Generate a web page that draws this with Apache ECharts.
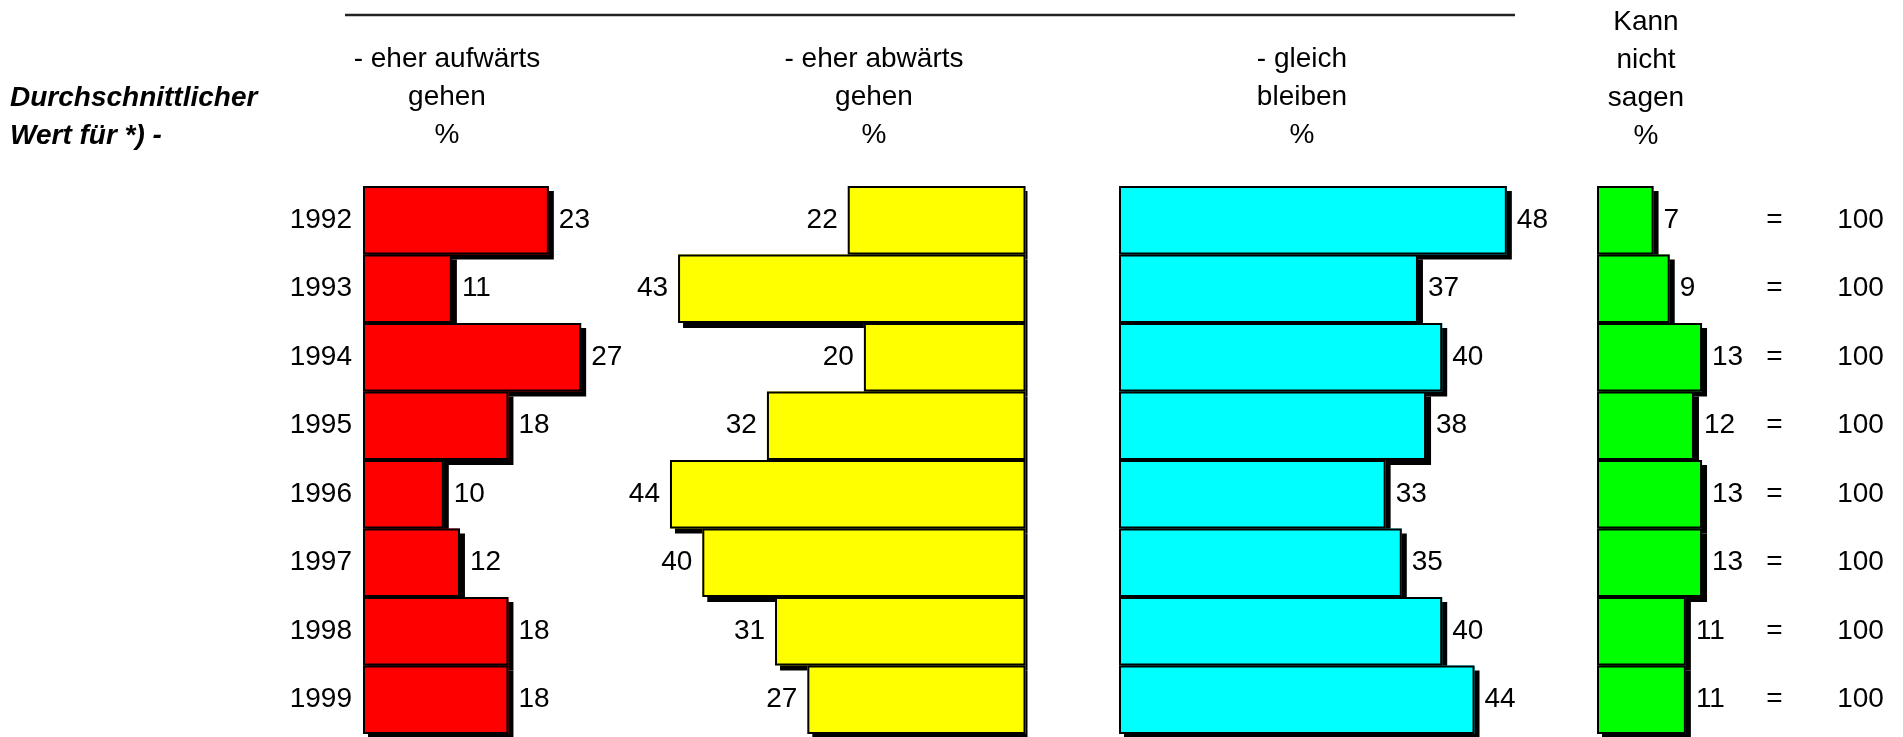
<!DOCTYPE html>
<html>
<head>
    <meta charset="utf-8">
    <title>Durchschnittlicher Wert</title>
    <script src="https://cdn.jsdelivr.net/npm/echarts@6/dist/echarts.min.js"></script>
    <style>
        html, body { margin: 0; padding: 0; background: #fff; }
        #chart1 { width: 1903px; height: 737px; }
    </style>
</head>
<body>
<div id="chart1"></div>
<script type="text/javascript">
    // Daten
    var years = ['1992', '1993', '1994', '1995', '1996', '1997', '1998', '1999'];
    var aufwaerts = [23, 11, 27, 18, 10, 12, 18, 18];
    var abwaerts = [22, 43, 20, 32, 44, 40, 31, 27];
    var gleich = [48, 37, 40, 38, 33, 35, 40, 44];
    var kannNicht = [7, 9, 13, 12, 13, 13, 11, 11];
    var totals = [100, 100, 100, 100, 100, 100, 100, 100];

    var FONT = "'Liberation Sans', Arial, sans-serif";
    var FS = 28;
    var PX = 8.08;          // Pixel pro Prozentpunkt
    var TOP = 186, H = 548;

    var myChart1 = echarts.init(document.getElementById('chart1'));

    // Schatten-Ebene (ohne Rahmen, sonst wirft der Rahmen einen zweiten Schatten)
    function shadowSeries(idx, data, color) {
        return {
            type: 'bar',
            xAxisIndex: idx,
            yAxisIndex: idx,
            data: data,
            barCategoryGap: '0%',
            barGap: '-100%',
            itemStyle: {
                color: color,
                borderWidth: 0,
                shadowColor: '#000',
                shadowBlur: 0,
                shadowOffsetX: 5,
                shadowOffsetY: 5
            },
            silent: true,
            emphasis: { disabled: true },
            animation: false
        };
    }

    // obere Ebene mit Rahmen und Beschriftung
    function barSeries(idx, data, color, pos) {
        return {
            type: 'bar',
            xAxisIndex: idx,
            yAxisIndex: idx,
            data: data,
            barCategoryGap: '0%',
            barGap: '-100%',
            itemStyle: {
                color: color,
                borderColor: '#000',
                borderWidth: 2
            },
            label: {
                show: true,
                position: pos,
                distance: 10,
                color: '#000',
                fontSize: FS,
                fontFamily: FONT
            },
            emphasis: { disabled: true },
            animation: false
        };
    }

    function xAx(idx, max, inverse) {
        return {
            gridIndex: idx, type: 'value', min: 0, max: max, inverse: !!inverse,
            show: false
        };
    }

    function yAx(idx) {
        return {
            gridIndex: idx, type: 'category', data: years, inverse: true,
            axisLine: { show: false }, axisTick: { show: false },
            axisLabel: { show: false }, splitLine: { show: false }
        };
    }

    var yAxes = [yAx(0), yAx(1), yAx(2), yAx(3), yAx(3)];
    // Jahreszahlen links
    yAxes[0].axisLabel = { show: true, color: '#000', fontSize: FS, fontFamily: FONT, margin: 11 };
    // "=  100" rechts
    yAxes[4].position = 'right';
    yAxes[4].axisLabel = {
        show: true, margin: 48, color: '#000', fontSize: FS, fontFamily: FONT,
        formatter: function (v, i) { return '{eq|=}{v|' + totals[i] + '}'; },
        rich: {
            eq: { width: 71, fontSize: FS, fontFamily: FONT, color: '#000' },
            v: { fontSize: FS, fontFamily: FONT, color: '#000' }
        }
    };

    var option = {
        backgroundColor: '#fff',
        animation: false,
        grid: [
            { left: 363, top: TOP, width: 30 * PX, height: H },
            { left: 1025.5 - 50 * PX, top: TOP, width: 50 * PX, height: H },
            { left: 1119, top: TOP, width: 50 * PX, height: H },
            { left: 1597, top: TOP, width: 15 * PX, height: H }
        ],
        xAxis: [xAx(0, 30), xAx(1, 50, true), xAx(2, 50), xAx(3, 15)],
        yAxis: yAxes,
        series: [
            shadowSeries(0, aufwaerts, '#ff0000'),
            barSeries(0, aufwaerts, '#ff0000', 'right'),
            shadowSeries(1, abwaerts, '#ffff00'),
            barSeries(1, abwaerts, '#ffff00', 'left'),
            shadowSeries(2, gleich, '#00ffff'),
            barSeries(2, gleich, '#00ffff', 'right'),
            shadowSeries(3, kannNicht, '#00ff00'),
            barSeries(3, kannNicht, '#00ff00', 'right')
        ],
        graphic: [
            // Linie oben
            { type: 'line', shape: { x1: 345, y1: 15, x2: 1515, y2: 15 },
              style: { stroke: '#222', lineWidth: 2.5 } },
            // Schatten rechts der gelben Balken abdecken
            { type: 'rect', shape: { x: 1027.5, y: 180, width: 8, height: 560 },
              style: { fill: '#fff' }, z: 100 },
            { type: 'text', left: 10, top: 79,
              style: { text: 'Durchschnittlicher\nWert für *) -', font: 'italic bold ' + FS + 'px ' + FONT,
                       lineHeight: 38, fill: '#000' } },
            { type: 'text', x: 447, y: 40,
              style: { text: '- eher aufwärts\ngehen\n%', font: FS + 'px ' + FONT, align: 'center',
                       lineHeight: 38, fill: '#000' } },
            { type: 'text', x: 874, y: 40,
              style: { text: '- eher abwärts\ngehen\n%', font: FS + 'px ' + FONT, align: 'center',
                       lineHeight: 38, fill: '#000' } },
            { type: 'text', x: 1302, y: 40,
              style: { text: '- gleich\nbleiben\n%', font: FS + 'px ' + FONT, align: 'center',
                       lineHeight: 38, fill: '#000' } },
            { type: 'text', x: 1646, y: 3,
              style: { text: 'Kann\nnicht\nsagen\n%', font: FS + 'px ' + FONT, align: 'center',
                       lineHeight: 38, fill: '#000' } }
        ]
    };

    myChart1.setOption(option);
</script>
</body>
</html>
